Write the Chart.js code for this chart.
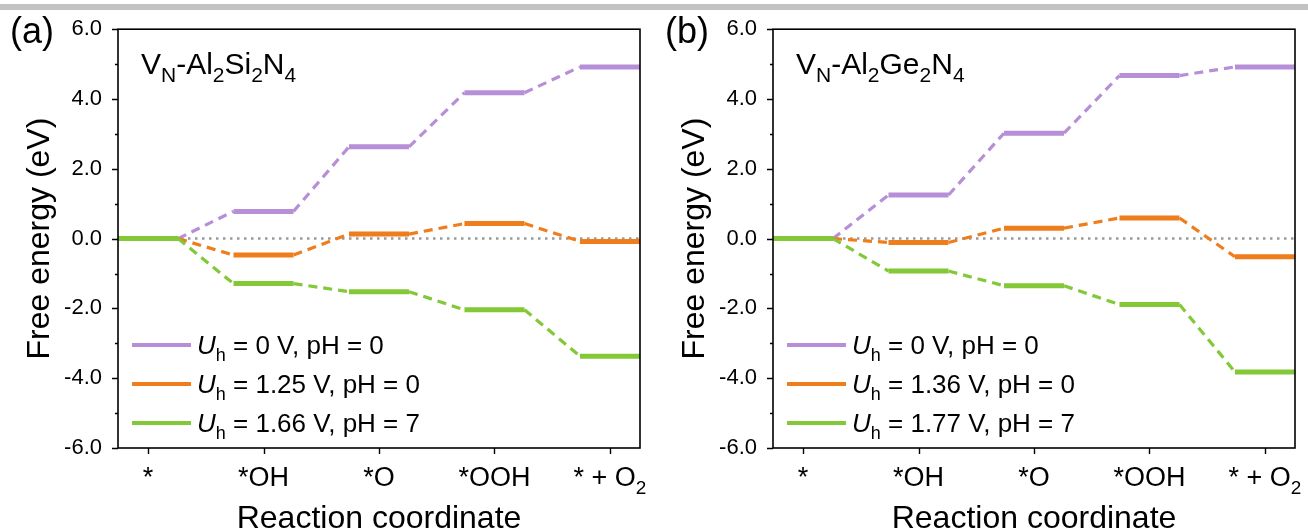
<!DOCTYPE html>
<html>
<head>
<meta charset="utf-8">
<script src="https://cdn.jsdelivr.net/npm/chart.js@4.4.1/dist/chart.umd.min.js"></script>
<style>
  body { margin: 0; background: #fff; width: 1308px; height: 529px; overflow: hidden; position: relative; }
  .topbar { position: absolute; left: 0; top: 4px; width: 1308px; height: 6px; background: #c3c3c3; }
  .panel { position: absolute; top: 0; height: 529px; }
  #panelA { left: 0; width: 650px; }
  #panelB { left: 655px; width: 653px; }
</style>
</head>
<body>
<div class="topbar"></div>
<div class="panel" id="panelA"><canvas id="chartA" width="650" height="529"></canvas></div>
<div class="panel" id="panelB"><canvas id="chartB" width="653" height="529"></canvas></div>
<script>
// reaction steps of the 4e- OER path ("_" = next char as subscript)
const states = ['*', '*OH', '*O', '*OOH', '* + O_2'];

// V_N-Al2Si2N4
const siPotentials = ['0', '1.25', '1.66'];
const siPH = ['0', '0', '7'];
const siU0 = [0, 0.78, 2.63, 4.18, 4.92];
const siU125 = [0, -0.47, 0.13, 0.43, -0.08];
const siU166 = [0, -1.29, -1.52, -2.04, -3.37];

// V_N-Al2Ge2N4
const gePotentials = ['0', '1.36', '1.77'];
const gePH = ['0', '0', '7'];
const geU0 = [0, 1.25, 3.02, 4.67, 4.92];
const geU136 = [0, -0.11, 0.30, 0.59, -0.52];
const geU177 = [0, -0.93, -1.35, -1.89, -3.82];

const colors = ['#b68fd8', '#f07d1c', '#82c837'];
const HALF = 0.26;   // half width of an energy level, in steps
const FONT = '"Liberation Sans", Arial, sans-serif';

function parseRich(str) {
  const parts = [];
  for (let i = 0; i < str.length; i++) {
    if (str[i] === '_') { parts.push({ t: str[i + 1], sub: true }); i++; }
    else if (parts.length && !parts[parts.length - 1].sub) parts[parts.length - 1].t += str[i];
    else parts.push({ t: str[i] });
  }
  return parts;
}

function fontFor(p, size) {
  return (p.italic ? 'italic ' : '') + Math.round(p.sub ? size * 0.7 : size) + 'px ' + FONT;
}

function richWidth(ctx, parts, size) {
  let w = 0;
  parts.forEach(p => { ctx.font = fontFor(p, size); w += ctx.measureText(p.t).width; });
  return w;
}

function drawRich(ctx, parts, x, y, size, center) {
  let cx = center ? x - richWidth(ctx, parts, size) / 2 : x;
  ctx.textAlign = 'left';
  ctx.textBaseline = 'alphabetic';
  parts.forEach(p => {
    ctx.font = fontFor(p, size);
    ctx.fillText(p.t, cx, p.sub ? y + size * 0.28 : y);
    cx += ctx.measureText(p.t).width;
  });
}

function levelPoints(values) {
  const pts = [];
  values.forEach((v, i) => {
    pts.push({ x: i - HALF, y: v }, { x: i + HALF, y: v }, { x: i + 0.5, y: null });
  });
  return pts;
}

function linkPoints(values) {
  const pts = [];
  for (let i = 0; i < values.length - 1; i++) {
    pts.push({ x: i + HALF, y: values[i] }, { x: i + 1 - HALF, y: values[i + 1] }, { x: i + 1 - HALF, y: null });
  }
  return pts;
}

// frame, ticks, step labels, titles and legend
const decor = {
  id: 'decor',
  afterDatasetsDraw(chart, args, opts) {
    const { ctx, chartArea: a, scales: { x, y } } = chart;
    ctx.save();
    ctx.strokeStyle = '#000';
    ctx.fillStyle = '#000';
    ctx.lineWidth = 1.6;
    ctx.strokeRect(a.left, a.top, a.right - a.left, a.bottom - a.top);

    ctx.lineWidth = 1.4;
    ctx.beginPath();
    for (let v = y.min; v <= y.max; v += 1) {
      const py = Math.round(y.getPixelForValue(v)) + 0.5;
      const len = v % 2 === 0 ? 6 : 3;
      ctx.moveTo(a.left - len, py);
      ctx.lineTo(a.left, py);
    }
    states.forEach((s, i) => {
      const px = Math.round(x.getPixelForValue(i)) + 0.5;
      ctx.moveTo(px, a.bottom);
      ctx.lineTo(px, a.bottom + 6);
    });
    ctx.stroke();

    states.forEach((s, i) => {
      drawRich(ctx, parseRich(s), x.getPixelForValue(i), a.bottom + 38, 27, true);
    });

    // axis titles
    drawRich(ctx, [{ t: 'Reaction coordinate' }], (a.left + a.right) / 2, 528, 31.5, true);
    ctx.save();
    ctx.translate(49, (a.top + a.bottom) / 2);
    ctx.rotate(-Math.PI / 2);
    drawRich(ctx, [{ t: 'Free energy (eV)' }], 0, 0, 32, true);
    ctx.restore();

    drawRich(ctx, [{ t: opts.letter }], 10, 43, 36, false);
    drawRich(ctx, parseRich(opts.title), a.left + 23, 74, 30, false);

    // legend
    opts.potentials.forEach((u, k) => {
      const ly = a.bottom - 103 + k * 39;
      ctx.strokeStyle = colors[k];
      ctx.lineWidth = 4;
      ctx.beginPath();
      ctx.moveTo(a.left + 14, ly);
      ctx.lineTo(a.left + 73, ly);
      ctx.stroke();
      drawRich(ctx, [{ t: 'U', italic: true }, { t: 'h', sub: true }, { t: ' = ' + u + ' V, pH = ' + opts.pH[k] }],
        a.left + 79, ly + 9, 26, false);
    });
    ctx.restore();
  }
};

function makeChart(id, series, letter, title, potentials, pH, rightPad) {
  const datasets = [{
    data: [{ x: -HALF, y: 0 }, { x: states.length - 1 + HALF, y: 0 }],
    borderColor: '#9a9a9a', borderWidth: 2.5, borderDash: [2.5, 4.5], order: 10
  }];
  series.forEach((values, k) => {
    datasets.push({
      data: linkPoints(values), borderColor: colors[k], borderWidth: 3.2,
      borderDash: [9, 6], order: 6 - 2 * k
    });
    datasets.push({
      data: levelPoints(values), borderColor: colors[k], borderWidth: 5,
      order: 5 - 2 * k
    });
  });
  datasets.forEach(d => { d.pointRadius = 0; d.spanGaps = false; d.tension = 0; });

  return new Chart(document.getElementById(id), {
    type: 'line',
    data: { datasets },
    options: {
      responsive: false,
      animation: false,
      devicePixelRatio: 1,
      layout: { padding: { top: 29, right: rightPad, left: 0, bottom: 0 } },
      plugins: {
        legend: { display: false },
        tooltip: { enabled: false },
        decor: { letter, title, potentials, pH }
      },
      scales: {
        x: {
          type: 'linear', min: -HALF, max: states.length - 1 + HALF,
          grid: { display: false }, border: { display: false },
          ticks: { display: false },
          afterFit: s => { s.height = 81; }
        },
        y: {
          min: -6, max: 6,
          grid: { display: false, drawTicks: false }, border: { display: false },
          ticks: {
            stepSize: 2, padding: 16, color: '#000',
            font: { family: FONT, size: 22 },
            callback: v => v.toFixed(1)
          },
          afterFit: s => { s.width = 118; }
        }
      }
    },
    plugins: [decor]
  });
}

makeChart('chartA', [siU0, siU125, siU166], '(a)', 'V_N-Al_2Si_2N_4', siPotentials, siPH, 10);
makeChart('chartB', [geU0, geU136, geU177], '(b)', 'V_N-Al_2Ge_2N_4', gePotentials, gePH, 13);
</script>
</body>
</html>
